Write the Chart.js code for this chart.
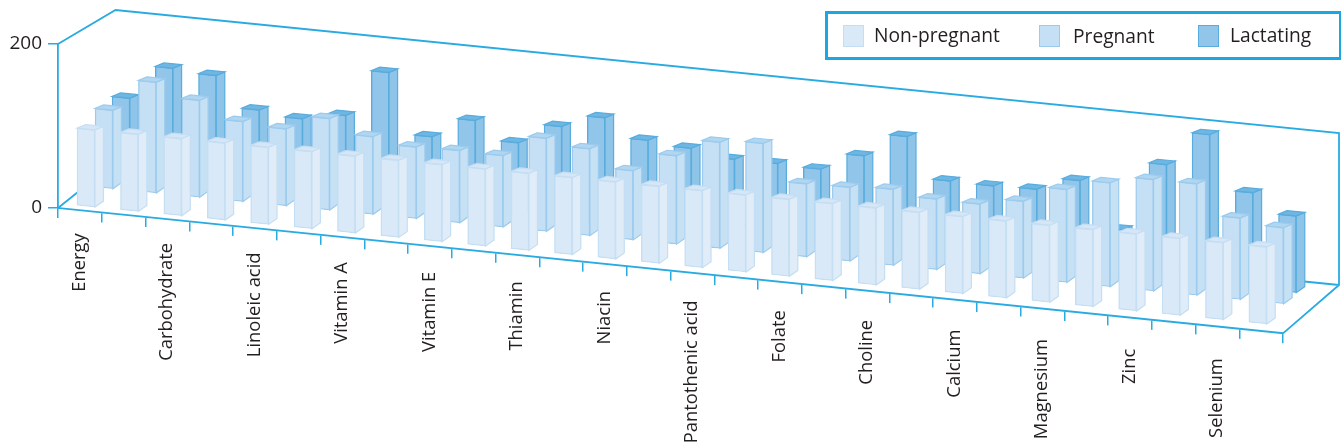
<!DOCTYPE html>
<html>
<head>
<meta charset="utf-8">
<title>Nutrient requirements</title>
<script src="https://cdn.jsdelivr.net/npm/chart.js@4/dist/chart.umd.min.js"></script>
<style>
  body { margin: 0; background: #fff; }
  #wrap { position: relative; width: 1341px; height: 447px; overflow: hidden; }
  #legend {
    position: absolute; left: 824.5px; top: 10.5px; width: 511px; height: 43px;
    border: 3px solid #1ca7e0; margin: 0; padding: 0; list-style: none;
    font: 19.2px "Open Sans", sans-serif; color: #231f20;
  }
  #legend li { position: absolute; top: 0; height: 43px; line-height: 43px; white-space: nowrap; }
  #legend li:nth-child(1) { left: 15.5px; }
  #legend li:nth-child(2) { left: 211.5px; }
  #legend li:nth-child(3) { left: 370.5px; }
  #legend i { display: inline-block; width: 19px; height: 20px; border: 1px solid; vertical-align: -4px; }
  #legend span { position: absolute; top: -1px; }
  #legend li:nth-child(1) span { left: 31px; }
  #legend li:nth-child(2) span { left: 34px; top: 0; }
  #legend li:nth-child(3) span { left: 32px; }
</style>
</head>
<body>
<div id="wrap">
  <canvas id="chart" width="1341" height="447"></canvas>
  <ul id="legend"></ul>
</div>
<script>
// every other tick carries a name
const categories = [
  'Energy', '', 'Carbohydrate', '', 'Linoleic acid', '', 'Vitamin A', '',
  'Vitamin E', '', 'Thiamin', '', 'Niacin', '', 'Pantothenic acid', '',
  'Folate', '', 'Choline', '', 'Calcium', '', 'Magnesium', '',
  'Zinc', '', 'Selenium', ''
];
const yTicks = [0, 200];

const nonPregnant = [
  100, 100, 100, 100, 100, 100, 100, 100, 100, 100, 100, 100, 100, 100,
  100, 100, 100, 100, 100, 100, 100, 100, 100, 100, 100, 100, 100, 100
];
const pregnant = [
  103, 145, 127, 105, 101, 120, 102, 94, 95, 94, 122, 114, 91, 116,
  139, 143, 96, 97, 100, 93, 92, 101, 122, 136, 146, 146, 107, 100
];
const lactating = [
  108, 153, 149, 109, 103, 113, 175, 96, 123, 99, 126, 143, 119, 114,
  105, 105, 103, 126, 157, 104, 103, 104, 121, 62, 153, 198, 127, 102
];

// where each row of bars sits on the floor of the box
const rows = [
  { x0: 86,  step: 43.4,  y0: 206,   rise: 4.33, k: 0.951 },
  { x0: 104, step: 43.36, y0: 187.7, rise: 4.26, k: 0.939 },
  { x0: 121, step: 43.2,  y0: 178.5, rise: 4.19, k: 0.927 }
];
const faces = [
  { side: '#e0edf9', top: '#d6e6f6', line: '#c4def3' },
  { side: '#c6e0f4', top: '#b1d6f0', line: '#9ccbee' },
  { side: '#8fc4e9', top: '#6fb6e2', line: '#58acde' }
];
const AXIS = '#29abe2';
const INK = '#231f20';
const AXIS_SLOPE = 0.1023;
const LABEL_SLOPE = 0.11;
const BAR_DEPTH = 8.5;

// matrix that maps the flat plot onto one row of the box
function rowMatrix(chart, index) {
  const r = rows[index];
  const xs = chart.scales.x;
  const base = chart.scales.y.getPixelForValue(0);
  const band = xs.width / categories.length;
  const a = r.step / band;
  const e = r.x0 - a * (xs.left + band / 2);
  const s = r.rise / r.step;
  return { a, b: s * a, d: r.k, e, f: r.y0 + s * (e - r.x0 + 9) - r.k * base };
}

function project(m, x, y) {
  return [m.a * x + m.e, m.b * x + m.d * y + m.f];
}

function poly(ctx, pts, fill, line) {
  ctx.beginPath();
  pts.forEach((p, i) => i ? ctx.lineTo(p[0], p[1]) : ctx.moveTo(p[0], p[1]));
  ctx.closePath();
  ctx.fillStyle = fill;
  ctx.fill();
  ctx.strokeStyle = line;
  ctx.lineWidth = 1.2;
  ctx.stroke();
}

// shear the x axis line, ticks and labels along the front of the floor
function shearAxis(scale) {
  if (scale.sheared) return;
  scale.sheared = true;
  const ctx = scale.ctx;
  ['drawGrid', 'drawBorder'].forEach(name => {
    const orig = scale[name];
    scale[name] = function (area) {
      ctx.save();
      ctx.transform(1, AXIS_SLOPE, 0, 1, 0, -AXIS_SLOPE * scale.left);
      orig.call(scale, area);
      ctx.restore();
    };
  });
  const compute = scale._computeLabelItems;
  scale._computeLabelItems = function (area) {
    const items = compute.call(scale, area);
    items.forEach(item => {
      const t = item.options.translation;
      t[1] += LABEL_SLOPE * (t[0] - scale.left);
      t[0] -= 0.5;
    });
    return items;
  };
}

const box3d = {
  id: 'box3d',
  beforeDatasetsDraw(chart) {
    const ctx = chart.ctx;
    const { x, y } = chart.scales;
    const top = y.getPixelForValue(200);
    const floor = y.getPixelForValue(0);
    const endY = floor + AXIS_SLOPE * x.width;
    ctx.save();
    ctx.strokeStyle = AXIS;
    ctx.lineWidth = 1.8;
    ctx.beginPath();
    ctx.moveTo(x.left, top);
    ctx.lineTo(x.left + 57.5, top - 34);
    ctx.lineTo(x.right + 56, top + 89);
    ctx.lineTo(x.right + 56, floor + 77);
    ctx.lineTo(x.right, endY);
    ctx.moveTo(x.right + 56, floor + 77);
    ctx.lineTo(x.left + 57.5, floor - 46);
    ctx.lineTo(x.left, floor);
    ctx.stroke();
    ctx.restore();
  },
  beforeDatasetDraw(chart, args) {
    const m = rowMatrix(chart, args.index);
    chart.ctx.save();
    chart.ctx.transform(m.a, m.b, 0, m.d, m.e, m.f);
  },
  afterDatasetDraw(chart, args) {
    const ctx = chart.ctx;
    ctx.restore();
    const m = rowMatrix(chart, args.index);
    const face = faces[args.index];
    ctx.save();
    args.meta.data.forEach(bar => {
      const half = bar.width / 2;
      const tl = project(m, bar.x - half, bar.y);
      const tr = project(m, bar.x + half, bar.y);
      const br = project(m, bar.x + half, bar.base);
      const dx = BAR_DEPTH;
      poly(ctx, [tr, br, [br[0] + dx, br[1] - 6], [tr[0] + dx, tr[1] - 3.5]], face.side, face.line);
      poly(ctx, [tl, tr, [tr[0] + dx, tr[1] - 3.5], [tl[0] + dx, tl[1] - 3.5]], face.top, face.line);
    });
    ctx.restore();
  }
};

const makeSet = (label, data, fill, line) => ({
  label, data,
  backgroundColor: fill,
  borderColor: line,
  borderWidth: 1.4,
  borderSkipped: false,
  barThickness: 18,
  grouped: false,
  clip: false
});

const chart = new Chart(document.getElementById('chart').getContext('2d'), {
  type: 'bar',
  data: {
    labels: categories,
    datasets: [
      makeSet('Non-pregnant', nonPregnant, '#d9e9f8', faces[0].line),
      makeSet('Pregnant', pregnant, '#c5dff4', faces[1].line),
      makeSet('Lactating', lactating, '#91c5ea', faces[2].line)
    ]
  },
  options: {
    responsive: false,
    animation: false,
    layout: { padding: { top: 44, right: 58, left: 0, bottom: 0 } },
    plugins: { legend: { display: false }, tooltip: { enabled: false } },
    scales: {
      x: {
        beforeUpdate: shearAxis,
        afterFit(s) { s.height = 239; },
        grid: { color: AXIS, lineWidth: 1.5, drawOnChartArea: false, tickLength: 10 },
        border: { color: AXIS, width: 1.8 },
        ticks: {
          autoSkip: false, minRotation: 90, maxRotation: 90, padding: 14,
          color: INK, font: { family: '"Open Sans", sans-serif', size: 18.4 }
        }
      },
      y: {
        min: 0,
        max: 200,
        afterFit(s) { s.width = 58; },
        afterBuildTicks(s) { s.ticks = yTicks.map(value => ({ value })); },
        grid: { color: AXIS, lineWidth: 1.5, drawOnChartArea: false, tickLength: 10 },
        border: { color: AXIS, width: 1.8 },
        ticks: { padding: 6, color: INK, font: { family: '"Open Sans", sans-serif', size: 19 } }
      }
    }
  },
  plugins: [box3d]
});

// legend entries come from the datasets
document.getElementById('legend').innerHTML = chart.data.datasets.map(ds =>
  `<li><i style="background:${ds.backgroundColor};border-color:${ds.borderColor}"></i><span>${ds.label}</span></li>`
).join('');
</script>
</body>
</html>
